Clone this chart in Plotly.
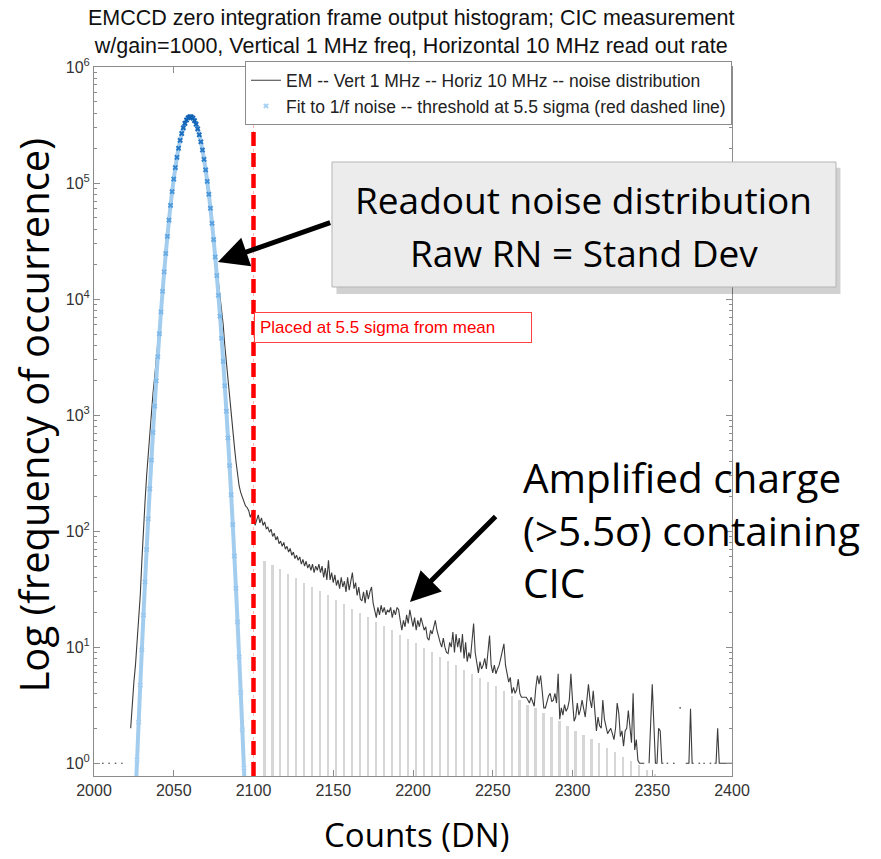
import plotly.graph_objects as go
import numpy as np

# ---------------- data ----------------
threshold_x = 2100

# measured histogram (EM -- Vert 1 MHz -- Horiz 10 MHz), one value per count bin 2001..2400
data_x = list(range(2001, 2401))
data_y = [
    None, None, None, None, 1, 1, None, None, 1, 1,                      # 2001-2010
    None, None, 1, 1, None, None, 1, 1, None, None,                      # 2011-2020
    None, None, 2, 3.5, 5, 7, 11, 16, 28, 55,                            # 2021-2030
    110, 180, 300, 470, 730, 1100, 1550, 2100, 2900, 4000,               # 2031-2040
    5700, 8300, 12000, 17500, 25000, 35000, 48000, 64000, 84000, 108000,  # 2041-2050
    135000, 166000, 199000, 233000, 267000, 299000, 327000, 349000, 365000, 372000,  # 2051-2060
    371000, 362000, 345000, 322000, 293000, 261000, 227000, 193000, 161000, 131000,  # 2061-2070
    105000, 82000, 63000, 48000, 35500, 25500, 18500, 14000, 11000, 9000,  # 2071-2080
    6000, 4000, 2800, 1950, 1400, 1000, 720, 540, 400, 300,              # 2081-2090
    245, 215, 195, 180, 165, 160, 150, 132, 140, 152,                    # 2091-2100
    112, 125, 138, 118, 130, 112, 120, 105, 108, 98,                     # 2101-2110
    104, 90, 96, 84, 90, 78, 82, 74, 80, 70,                             # 2111-2120
    74, 66, 71, 62, 66, 58, 62, 56, 60, 52,                              # 2121-2130
    57, 50, 55, 48, 52, 46, 52, 44, 50, 46,                              # 2131-2140
    52, 44, 50, 40, 48, 38, 56, 38, 44, 36,                              # 2141-2150
    42, 34, 38, 32, 40, 33, 37, 30, 40, 31,                              # 2151-2160
    38, 44, 32, 36, 28, 33, 26, 25, 30, 24,                              # 2161-2170
    31, 26, 30, 33, 24, 20, 18, 22, 19, 23,                              # 2171-2180
    20, 22, 19, 21, 20, 22, 18, 21, 19, 22,                              # 2181-2190
    21, 17, 14, 17, 15, 19, 16, 21, 17, 15,                              # 2191-2200
    18, 14, 17, 15, 18, 16, 14, 15, 12, 11.5,                            # 2201-2210
    14, 13, 15, 17, 14, 12, 11, 10, 12, 10,                              # 2211-2220
    9, 8.8, 11, 10, 13.5, 9, 13, 10, 12, 9,                              # 2221-2230
    13, 8, 11, 7.5, 9, 8, 12, 16, 9, 7,                                  # 2231-2240
    6, 7.5, 6.5, 7, 8, 6.5, 10, 12.6, 7, 6,                              # 2241-2250
    7, 5.9, 6.5, 7, 8, 9, 10.7, 7, 6, 5,                                 # 2251-2260
    5.5, 4, 4.5, 4, 4.3, 5.3, 4, 3.7, 3.7, 3.7,                          # 2261-2270
    3.7, 3.5, 3.3, 3.7, 3.4, 3.1, 4.5, 5.7, 4.8, 5.7,                    # 2271-2280
    4.2, 3.0, 3.0, 3.5, 3.8, 4.0, 3.4, 3.5, 4.0, 3.3,                    # 2281-2290
    5.9, 2.4, 3.0, 2.6, 3.2, 2.8, 3.0, 3.5, 5.9, 3.5,                    # 2291-2300
    2.3, 2.5, 3.3, 2.6, 2.9, 3.5, 3.0, 2.5, 3.5, 4.8,                    # 2301-2310
    3.5, 3.0, 4.2, 3.0, 1.9, 2.5, 2.1, 2.0, 3.5, 2.4,                    # 2311-2320
    2.0, 1.8, 1.9, 2.0, 1.8, 1.6, 2.0, 3.3, 2.7, 1.7,                    # 2321-2330
    1.9, 1.4, 1.9, 2.0, 2.85, 2.0, 1.5, 4.0, 1.3, 1.6,                   # 2331-2340
    1.06, 1, 1, 1, 1, None, None, 1, 2.0, 4.8,                           # 2341-2350
    2.2, 1, 1, 2.0, 1.9, 1, 1, None, 1, 1,                               # 2351-2360
    None, None, 1, 1, None, None, 3, 3, None, None,                      # 2361-2370
    1, 1, 1, 2.95, 1, 1, None, None, 1, 1,                               # 2371-2380
    None, 1, 1, None, None, 1, 1, None, 1, 1,                            # 2381-2390
    2.0, 1, 1, 1, 1, 1, 1, 1, 1, 1,                                      # 2391-2400
]

# fitted read-noise distribution (blue x markers)
fit_x = list(range(2026, 2096))
fit_y = [0.49, 1.07, 2.26, 4.70, 9.53, 18.9, 36.6, 69.3, 128, 232,
         410, 710, 1197, 1977, 3192, 5023, 7745, 11670, 17180, 24720,
         34750, 47860, 64270, 84330, 108200, 135800, 166300, 199500, 233300, 267300,
         299200, 327000, 349400, 365000, 372600, 371700, 362500, 345500, 321800, 293000,
         260800, 226700, 192700, 160100, 130000, 103200, 80050, 60670, 44950, 32550,
         23040, 15940, 10780, 7122, 4600, 2904, 1791, 1080, 637, 367,
         206, 114, 61.1, 32.1, 16.5, 8.28, 4.07, 1.95, 0.91, 0.42]

# light grey stems above threshold
bar_x = list(range(2107, 2353, 5))
bar_y = [55.6, 51.0, 46.8, 42.9, 39.4, 36.1, 33.1, 30.4, 27.9, 25.6,
         23.5, 21.5, 19.7, 18.1, 16.6, 15.2, 14.0, 12.8, 11.8, 10.8,
         9.9, 9.1, 8.3, 7.6, 7.0, 6.4, 5.9, 5.4, 5.0, 4.6,
         4.2, 3.8, 3.5, 3.2, 3.0, 2.7, 2.5, 2.3, 2.1, 1.9,
         1.76, 1.61, 1.48, 1.36, 1.24, 1.14, 1.05, 0.96, 0.88, 0.81]

x_ticks = [2000, 2050, 2100, 2150, 2200, 2250, 2300, 2350, 2400]
y_ticks = [1, 10, 100, 1000, 10000, 100000, 1000000]
y_ticktext = ["10<sup>%d</sup>" % k for k in range(7)]

# ---------------- styles ----------------
ARIAL = "Liberation Sans, Arial, sans-serif"
BIG = "Open Sans, sans-serif"
AXC = "#8c8c8c"

fig = go.Figure()
fig.add_trace(go.Bar(x=bar_x, y=bar_y, width=1.1,
                     marker=dict(color="#d6d6d6", line=dict(width=0)),
                     showlegend=False, hoverinfo="skip"))
fig.add_trace(go.Scatter(x=data_x, y=data_y, mode="lines", connectgaps=False,
                         line=dict(color="#3c3c3c", width=1.1),
                         name="EM -- Vert 1 MHz -- Horiz 10 MHz -- noise distribution"))
fig.add_trace(go.Scatter(x=fit_x, y=fit_y, mode="lines",
                         line=dict(color="#a3cdee", width=4, shape="spline"),
                         showlegend=False, hoverinfo="skip"))
fig.add_trace(go.Scatter(x=fit_x, y=fit_y, mode="markers",
                         marker=dict(symbol="x", size=5,
                                     color=np.log10(fit_y),
                                     colorscale=[[0, "#a8d0f0"], [0.75, "#7ab6e8"],
                                                 [0.9, "#3f8fd6"], [1, "#0d5fb3"]],
                                     cmin=0, cmax=5.6, line=dict(width=0)),
                         name="Fit to 1/f noise -- threshold at 5.5 sigma (red dashed line)"))

shapes = [
    dict(type="line", xref="x", yref="paper", x0=threshold_x, x1=threshold_x, y0=0, y1=1,
         line=dict(color="#ffb3b3", width=1, dash="dot"), layer="above"),
    dict(type="line", xref="x", yref="paper", x0=threshold_x, x1=threshold_x, y0=0, y1=1,
         line=dict(color="#ff0000", width=4.5, dash="14px,7px"), layer="above"),
    # shadow + callout box
    dict(type="rect", xref="paper", yref="paper", x0=0.380, x1=1.170, y0=0.680, y1=0.858,
         fillcolor="rgba(0,0,0,0.18)", line=dict(width=0), layer="above"),
    dict(type="rect", xref="paper", yref="paper", x0=0.373, x1=1.163, y0=0.6897, y1=0.866,
         fillcolor="#ececec", line=dict(color="#b5b5b5", width=1), layer="above"),
]

annotations = [
    dict(text="EMCCD zero integration frame output histogram; CIC measurement<br>"
              "w/gain=1000, Vertical 1 MHz freq, Horizontal 10 MHz read out rate",
         xref="paper", yref="paper", x=0.497, y=1.089, xanchor="center", yanchor="top",
         showarrow=False, font=dict(family=ARIAL, size=21.5, color="#111")),
    dict(text="Placed at 5.5 sigma from mean", xref="x", yref="paper", x=threshold_x, y=0.6326,
         xanchor="left", yanchor="middle", showarrow=False, align="left", width=266,
         bgcolor="white", bordercolor="#ff4040", borderwidth=1, borderpad=5,
         font=dict(family=ARIAL, size=17, color="#ff0000")),
    dict(text="Readout noise distribution", xref="paper", yref="paper", x=0.768, y=0.8138,
         xanchor="center", yanchor="middle", showarrow=False,
         font=dict(family=BIG, size=37, color="black")),
    dict(text="Raw RN = Stand Dev", xref="paper", yref="paper", x=0.768, y=0.739,
         xanchor="center", yanchor="middle", showarrow=False,
         font=dict(family=BIG, size=37, color="black")),
    dict(text="Amplified charge<br>(>5.5σ) containing<br>CIC", xref="paper", yref="paper",
         x=0.669, y=0.347, xanchor="left", yanchor="middle", align="left", showarrow=False,
         font=dict(family=BIG, size=40.5, color="black")),
    dict(text="Log (frequency of occurrence)", xref="paper", yref="paper", x=-0.095, y=0.509,
         xanchor="center", yanchor="middle", textangle=-90, showarrow=False,
         font=dict(family=BIG, size=40, color="black")),
    dict(text="Counts (DN)", xref="paper", yref="paper", x=0.506, y=-0.083,
         xanchor="center", yanchor="middle", showarrow=False,
         font=dict(family=BIG, size=33, color="black")),
    # arrows
    dict(text="", x=2077.7, y=4.32, xref="x", yref="y", ax=2149.0, ay=4.664,
         axref="x", ayref="y", showarrow=True, arrowhead=2, arrowsize=1.2, arrowwidth=5,
         arrowcolor="black", standoff=0),
    dict(text="", x=2198.1, y=1.389, xref="x", yref="y", ax=2252.7, ay=2.139,
         axref="x", ayref="y", showarrow=True, arrowhead=2, arrowsize=1.2, arrowwidth=5,
         arrowcolor="black", standoff=0),
]

minor_vals = [m * 10 ** k for k in range(0, 6) for m in range(2, 10)]

fig.update_layout(
    width=881, height=859,
    margin=dict(l=94, r=149, t=67, b=83),
    paper_bgcolor="white", plot_bgcolor="white",
    showlegend=True,
    legend=dict(x=0.2367, y=1.008, xanchor="left", yanchor="top",
                bgcolor="white", bordercolor=AXC, borderwidth=1,
                font=dict(family=ARIAL, size=17.5, color="#222"),
                itemwidth=30, tracegroupgap=0, traceorder="normal"),
    xaxis=dict(range=[2000, 2400], tickmode="array", tickvals=x_ticks,
               ticks="inside", ticklen=6, tickcolor=AXC, showline=True, linecolor=AXC,
               mirror="ticks", showgrid=False, zeroline=False,
               tickfont=dict(family=ARIAL, size=16, color="#333")),
    yaxis=dict(type="log", range=[-0.11, 6], tickmode="array", tickvals=y_ticks,
               ticktext=y_ticktext, ticks="inside", ticklen=6, tickcolor=AXC,
               showline=True, linecolor=AXC, mirror="ticks", showgrid=False,
               zeroline=False, tickfont=dict(family=ARIAL, size=16, color="#333"),
               minor=dict(tickmode="array", tickvals=minor_vals, ticks="inside",
                          ticklen=3, tickcolor=AXC, showgrid=False)),
    shapes=shapes,
    annotations=annotations,
    bargap=0,
)

fig.write_html("out.html")
